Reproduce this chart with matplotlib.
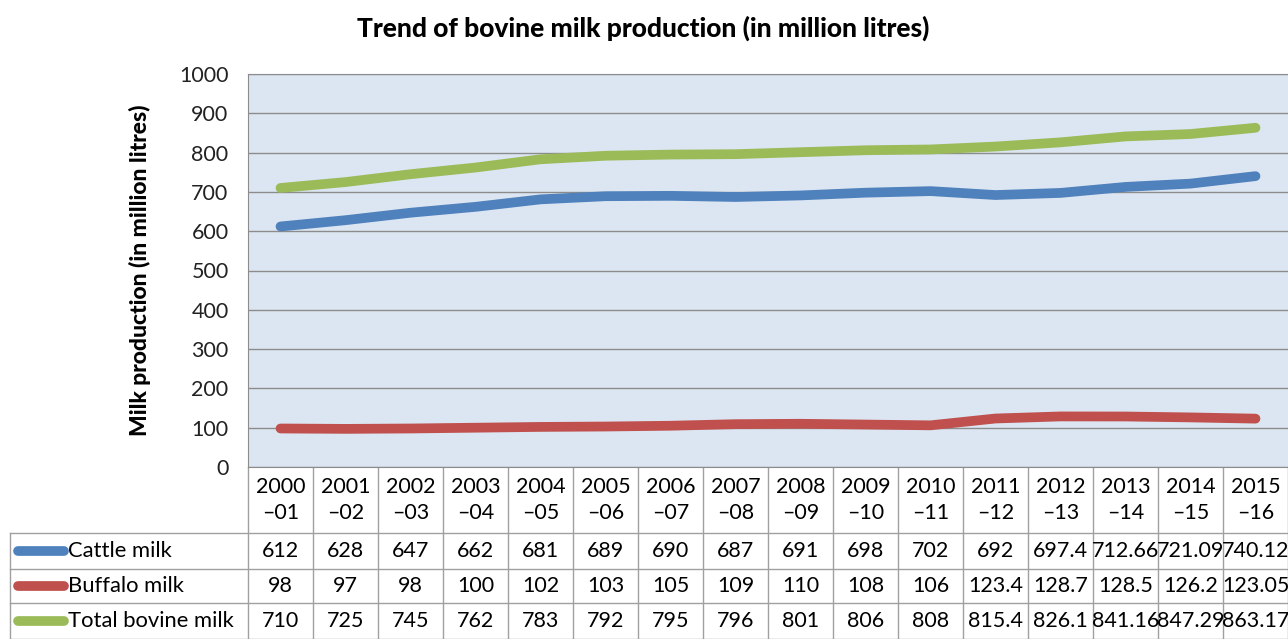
import matplotlib.pyplot as plt

plt.rcParams['font.family'] = ['Lato', 'DejaVu Sans']

years = ['2000\n\u201301', '2001\n\u201302', '2002\n\u201303', '2003\n\u201304',
         '2004\n\u201305', '2005\n\u201306', '2006\n\u201307', '2007\n\u201308',
         '2008\n\u201309', '2009\n\u201310', '2010\n\u201311', '2011\n\u201312',
         '2012\n\u201313', '2013\n\u201314', '2014\n\u201315', '2015\n\u201316']
cattle = [612, 628, 647, 662, 681, 689, 690, 687, 691, 698, 702, 692,
          697.4, 712.66, 721.09, 740.12]
buffalo = [98, 97, 98, 100, 102, 103, 105, 109, 110, 108, 106, 123.4,
           128.7, 128.5, 126.2, 123.05]
total = [710, 725, 745, 762, 783, 792, 795, 796, 801, 806, 808, 815.4,
         826.1, 841.16, 847.29, 863.17]
cattle_txt = ['612', '628', '647', '662', '681', '689', '690', '687', '691', '698',
              '702', '692', '697.4', '712.66', '721.09', '740.12']
buffalo_txt = ['98', '97', '98', '100', '102', '103', '105', '109', '110', '108',
               '106', '123.4', '128.7', '128.5', '126.2', '123.05']
total_txt = ['710', '725', '745', '762', '783', '792', '795', '796', '801', '806',
             '808', '815.4', '826.1', '841.16', '847.29', '863.17']
names = ['Cattle milk', 'Buffalo milk', 'Total bovine milk']
colors = ['#4f81bd', '#c0504d', '#9bbb59']

W, H = 1288, 639
fig = plt.figure(figsize=(W / 100, H / 100), dpi=100)

# plot area (pixel layout)
x0, x1, ytop, ybot = 248, 1288, 74, 467
ax = fig.add_axes([x0 / W, 1 - ybot / H, (x1 - x0) / W, (ybot - ytop) / H])
ax.set_facecolor('#dce6f2')
n = len(years)
xs = list(range(n))
for vals, c in zip([cattle, buffalo, total], colors):
    ax.plot(xs, vals, color=c, lw=7, solid_capstyle='round', zorder=3)
ax.set_xlim(-0.5, n - 0.5)
ax.set_ylim(0, 1000)
ax.set_yticks(range(0, 1001, 100))
ax.set_xticks([])
ax.grid(axis='y', color='#8c8c8c', lw=1)
ax.tick_params(axis='y', length=0, labelsize=15.5, pad=14, labelcolor='#222222')
for s in ax.spines.values():
    s.set_color('#8c8c8c')
ax.spines['right'].set_visible(False)
ax.set_ylabel('Milk production (in million litres)', fontsize=16.5, fontweight='black',
              labelpad=20)

fig.text(643 / W, 1 - 28 / H, 'Trend of bovine milk production (in million litres)',
         ha='center', va='center', fontsize=19, fontweight='black')

# data table drawn in pixel coords
tax = fig.add_axes([0, 0, 1, 1], zorder=-1)
tax.set_xlim(0, W)
tax.set_ylim(H, 0)
tax.axis('off')
cw = (x1 - x0) / n
rows_y = [467, 533, 569, 603, 639]
lc = '#a0a0a0'
for i in range(n + 1):
    tax.plot([x0 + i * cw] * 2, [467, 639], color=lc, lw=1)
tax.plot([10, 10], [533, 639], color=lc, lw=1)
for yy in rows_y[1:]:
    tax.plot([10, W], [yy, yy], color=lc, lw=1)
for i, lab in enumerate(years):
    tax.text(x0 + (i + 0.5) * cw, 500, lab, ha='center', va='center', fontsize=15.5,
             linespacing=1.35)
for r, (txts, name, c) in enumerate(zip([cattle_txt, buffalo_txt, total_txt], names, colors)):
    yc = (rows_y[r + 1] + rows_y[r + 2]) / 2
    tax.plot([18, 64], [yc, yc], color=c, lw=7, solid_capstyle='round')
    tax.text(68, yc, name, ha='left', va='center', fontsize=15.8)
    for i, t in enumerate(txts):
        tax.text(x0 + (i + 0.5) * cw, yc, t, ha='center', va='center', fontsize=15.5)

fig.savefig('out.png', dpi=100)
